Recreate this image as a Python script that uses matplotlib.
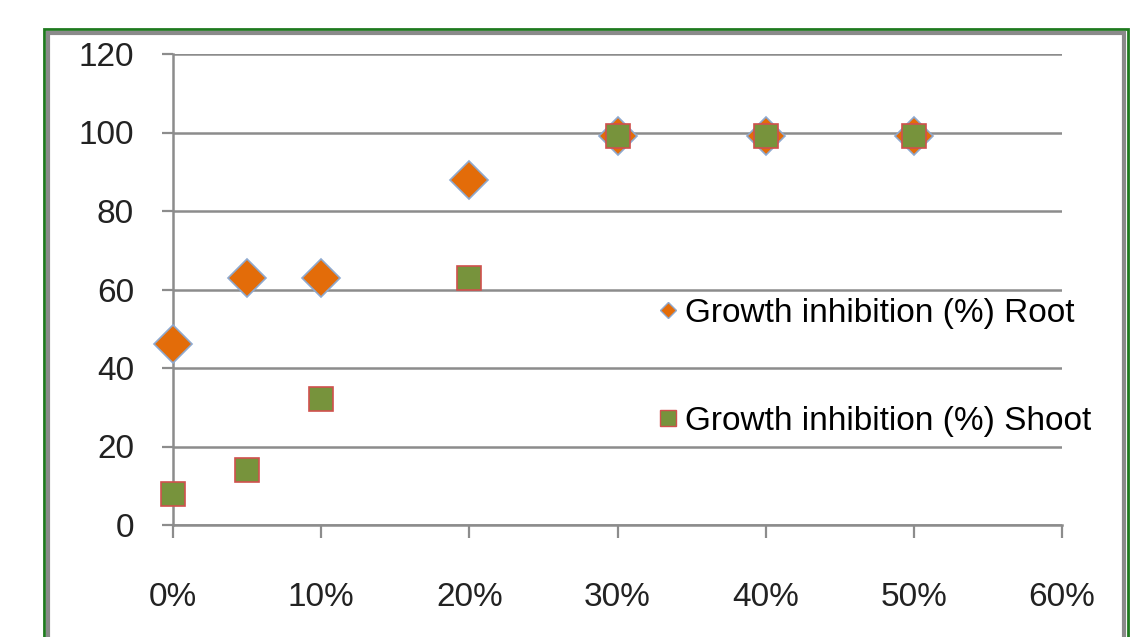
import matplotlib
matplotlib.use("Agg")
import matplotlib.pyplot as plt
from matplotlib.lines import Line2D
from matplotlib.patches import Rectangle
from matplotlib.ticker import FuncFormatter

# concentration (fraction) and growth inhibition (%)
conc = [0.0, 0.05, 0.10, 0.20, 0.30, 0.40, 0.50]
root = [46, 63, 63, 88, 99, 99, 99]
shoot = [8, 14, 32, 63, 99, 99, 99]
labels = ["Growth inhibition (%) Root", "Growth inhibition (%) Shoot"]

ORANGE, BLUE_EDGE = "#E36C09", "#8EA9CF"
GREEN, RED_EDGE = "#77933C", "#D0504D"
GRID = "#8C8C8C"

plt.rcParams.update({"font.family": ["Liberation Sans", "DejaVu Sans"], "font.size": 24})

fig = plt.figure(figsize=(11.4, 6.37), dpi=100)
W, H = 1140, 637

# outer frame: green line with grey shadow inside
fig.patches.append(Rectangle((44 / W, -0.2), (1128 - 44) / W, 1.2 - 29 / H,
                             transform=fig.transFigure, fill=False,
                             edgecolor="#1E7A1E", lw=2))
fig.patches.append(Rectangle((48 / W, -0.2), (1124 - 48) / W, 1.2 - 33 / H,
                             transform=fig.transFigure, fill=False,
                             edgecolor="#8A8A8A", lw=3))

ax = fig.add_axes([173 / W, 1 - 525 / H, (1062 - 173) / W, (525 - 54) / H])
ax.set_xlim(0, 0.6)
ax.set_ylim(0, 120)
ax.set_xticks([0, 0.1, 0.2, 0.3, 0.4, 0.5, 0.6])
ax.set_yticks(range(0, 121, 20))
ax.xaxis.set_major_formatter(FuncFormatter(lambda v, _: f"{v * 100:.0f}%"))
ax.yaxis.grid(True, color=GRID, lw=1.8)
ax.set_axisbelow(True)
for s in ["top", "right"]:
    ax.spines[s].set_visible(False)
for s in ["left", "bottom"]:
    ax.spines[s].set_color(GRID)
    ax.spines[s].set_linewidth(1.8)
ax.tick_params(axis="x", direction="out", length=9, width=1.6, color=GRID, pad=32,
               labelcolor="#222222")
ax.tick_params(axis="y", direction="out", length=8, width=1.6, color=GRID, pad=20,
               labelcolor="#222222")

ax.plot(conc, root, ls="none", marker="D", ms=19, mfc=ORANGE, mec=BLUE_EDGE, mew=1.2,
        clip_on=False, zorder=3)
ax.plot(conc, shoot, ls="none", marker="s", ms=17, mfc=GREEN, mec=RED_EDGE, mew=1.2,
        clip_on=False, zorder=4)

handles = [Line2D([], [], ls="none", marker="D", ms=8.5, mfc=ORANGE, mec=BLUE_EDGE, mew=1),
           Line2D([], [], ls="none", marker="s", ms=11, mfc=GREEN, mec=RED_EDGE, mew=1)]
ax.legend(handles, labels, loc="center left", bbox_to_anchor=(0.5456, 0.335), frameon=False,
          handlelength=0.6, handletextpad=0.2, labelspacing=2.3, borderaxespad=0,
          borderpad=0, fontsize=24)

fig.savefig("out.png", dpi=100)
